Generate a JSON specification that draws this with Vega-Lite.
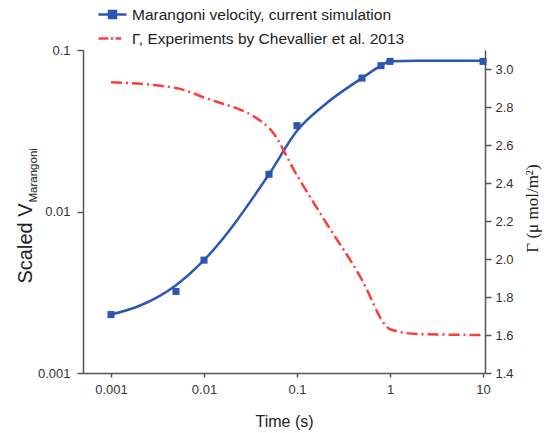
{
  "$schema": "https://vega.github.io/schema/vega-lite/v6.json",
  "width": 402,
  "height": 323,
  "autosize": {"type": "none"},
  "padding": {"left": 83, "top": 50, "right": 65, "bottom": 60},
  "background": "white",
  "config": {
    "view": {"stroke": null},
    "axis": {
      "grid": false,
      "labelFont": "Liberation Sans",
      "labelFontSize": 13,
      "labelColor": "#333333",
      "titleFont": "Liberation Sans",
      "titleFontWeight": "normal",
      "titleColor": "#222222",
      "domainColor": "#555555",
      "domainWidth": 1.5,
      "tickColor": "#555555",
      "tickWidth": 1.5
    }
  },
  "datasets": {
    "vel_curve": [
      {"t": 0.001, "v": 0.0023},
      {"t": 0.002, "v": 0.0026},
      {"t": 0.005, "v": 0.0035},
      {"t": 0.01, "v": 0.0050},
      {"t": 0.05, "v": 0.0170},
      {"t": 0.1, "v": 0.0316},
      {"t": 0.2, "v": 0.0460},
      {"t": 0.5, "v": 0.0670},
      {"t": 0.8, "v": 0.0800},
      {"t": 1.0, "v": 0.0852},
      {"t": 2.0, "v": 0.0857},
      {"t": 10.0, "v": 0.0858}
    ],
    "vel_points": [
      {"t": 0.001, "v": 0.0023},
      {"t": 0.005, "v": 0.0032},
      {"t": 0.01, "v": 0.0050},
      {"t": 0.05, "v": 0.0170},
      {"t": 0.1, "v": 0.0340},
      {"t": 0.5, "v": 0.0670},
      {"t": 0.8, "v": 0.0800},
      {"t": 1.0, "v": 0.0850},
      {"t": 10.0, "v": 0.0850}
    ],
    "gamma": [
      {"t": 0.001, "g": 2.93},
      {"t": 0.005, "g": 2.90},
      {"t": 0.01, "g": 2.85},
      {"t": 0.05, "g": 2.69},
      {"t": 0.1, "g": 2.44},
      {"t": 0.2, "g": 2.20},
      {"t": 0.5, "g": 1.89},
      {"t": 0.9, "g": 1.65},
      {"t": 1.0, "g": 1.63},
      {"t": 2.0, "g": 1.605},
      {"t": 10.0, "g": 1.60}
    ]
  },
  "layer": [
    {
      "layer": [
        {
          "data": {"name": "vel_curve"},
          "mark": {"type": "line", "interpolate": "monotone", "strokeWidth": 2.5},
          "encoding": {
            "x": {
              "field": "t", "type": "quantitative",
              "scale": {"type": "log", "domain": [0.0005, 10.5], "nice": false},
              "axis": {
                "orient": "bottom",
                "values": [0.001, 0.01, 0.1, 1, 10],
                "format": "~g",
                "tickSize": 4,
                "labelPadding": 6,
                "title": "Time (s)",
                "titleFontSize": 16,
                "titleX": 201,
                "titleY": 53,
                "titleAlign": "center",
                "titleBaseline": "alphabetic"
              }
            },
            "y": {
              "field": "v", "type": "quantitative",
              "scale": {"type": "log", "domain": [0.001, 0.1], "nice": false},
              "axis": {
                "orient": "left",
                "values": [0.001, 0.01, 0.1],
                "format": "~g",
                "tickSize": 6,
                "labelPadding": 7,
                "title": "Scaled V",
                "titleFontSize": 20,
                "titleAngle": 270,
                "titleX": -52,
                "titleY": 233,
                "titleAlign": "left",
                "titleBaseline": "alphabetic"
              }
            },
            "color": {
              "datum": "Marangoni velocity, current simulation",
              "type": "nominal",
              "scale": {
                "domain": ["Marangoni velocity, current simulation", "Γ, Experiments by Chevallier et al. 2013"],
                "range": ["#2b57b3", "#ff3c3c"]
              },
              "legend": {
                "orient": "none",
                "legendX": 14,
                "legendY": -51,
                "title": null,
                "padding": 0,
                "symbolSize": 784,
                "symbolStrokeWidth": 2.5,
                "rowPadding": -11,
                "labelOffset": 4,
                "labelFont": "Liberation Sans",
                "labelFontSize": 15.5,
                "labelColor": "#222222",
                "labelLimit": 0,
                "encode": {
                  "symbols": {
                    "update": {
                      "shape": {"signal": "datum.value === 'Marangoni velocity, current simulation' ? 'M-1,0H1M-0.25,-0.25H0.25V0.25H-0.25Z' : 'M-1,0H-0.3M-0.12,0H0.04M0.22,0H0.62'"},
                      "fill": {"scale": "color", "field": "value"},
                      "stroke": {"scale": "color", "field": "value"},
                      "strokeWidth": {"value": 2.5},
                      "opacity": {"value": 1}
                    }
                  }
                }
              }
            }
          }
        },
        {
          "data": {"name": "vel_points"},
          "mark": {"type": "square", "size": 50, "color": "#2b57b3", "filled": true, "opacity": 1},
          "encoding": {
            "x": {"field": "t", "type": "quantitative"},
            "y": {
              "field": "v", "type": "quantitative",
              "axis": {
                "orient": "left",
                "labels": false,
                "ticks": false,
                "domain": false,
                "title": "Marangoni",
                "titleFontSize": 11.5,
                "titleAngle": 270,
                "titleX": -47,
                "titleY": 152,
                "titleAlign": "left",
                "titleBaseline": "alphabetic"
              }
            }
          }
        }
      ],
      "resolve": {"axis": {"y": "independent"}}
    },
    {
      "data": {"name": "gamma"},
      "mark": {"type": "line", "interpolate": "monotone", "strokeWidth": 2.5, "strokeDash": [11, 4, 2, 4]},
      "encoding": {
        "x": {"field": "t", "type": "quantitative"},
        "y": {
          "field": "g", "type": "quantitative",
          "scale": {"domain": [1.4, 3.1], "nice": false, "zero": false},
          "axis": {
            "orient": "right",
            "values": [1.4, 1.6, 1.8, 2.0, 2.2, 2.4, 2.6, 2.8, 3.0],
            "format": ".1f",
            "tickSize": 6,
            "labelPadding": 4,
            "title": "Γ (μ mol/m²)",
            "titleFont": "Liberation Serif",
            "titleFontSize": 17,
            "titleAngle": 270,
            "titleX": 52,
            "titleY": 158,
            "titleAlign": "center",
            "titleBaseline": "alphabetic"
          }
        },
        "color": {"datum": "Γ, Experiments by Chevallier et al. 2013", "type": "nominal"}
      }
    }
  ],
  "resolve": {"scale": {"y": "independent"}}
}
